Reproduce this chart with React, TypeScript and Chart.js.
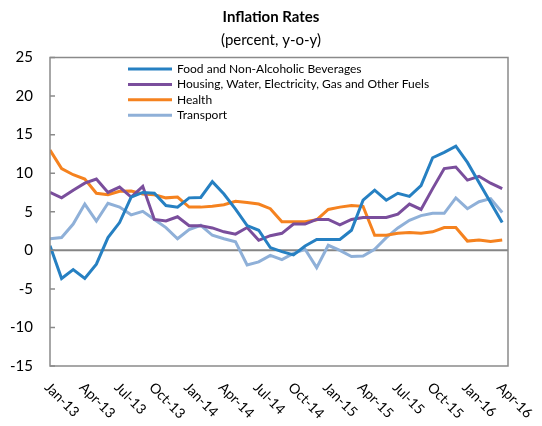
import React, { useEffect, useRef } from "react";
import { Chart, registerables } from "chart.js";
Chart.register(...registerables);

const months = [
  "Jan-13","Feb-13","Mar-13","Apr-13","May-13","Jun-13","Jul-13","Aug-13","Sep-13","Oct-13","Nov-13","Dec-13",
  "Jan-14","Feb-14","Mar-14","Apr-14","May-14","Jun-14","Jul-14","Aug-14","Sep-14","Oct-14","Nov-14","Dec-14",
  "Jan-15","Feb-15","Mar-15","Apr-15","May-15","Jun-15","Jul-15","Aug-15","Sep-15","Oct-15","Nov-15","Dec-15",
  "Jan-16","Feb-16","Mar-16","Apr-16",
];
const tickLabels = [
  "Jan-13","Apr-13","Jul-13","Oct-13","Jan-14","Apr-14","Jul-14",
  "Oct-14","Jan-15","Apr-15","Jul-15","Oct-15","Jan-16","Apr-16",
];
const yTicks = [25, 20, 15, 10, 5, 0, -5, -10, -15];

const food = [0.6, -3.65, -2.5, -3.65, -1.8, 1.65, 3.6, 6.9, 7.5, 7.4, 5.8, 5.6, 6.8, 6.85, 8.9, 7.3, 5.35, 3.2, 2.6, 0.35, -0.17, -0.6, 0.56, 1.4, 1.4, 1.4, 2.6, 6.5, 7.8, 6.5, 7.4, 7.0, 8.4, 12.0, 12.7, 13.5, 11.4, 8.8, 6.2, 3.6];
const housing = [7.5, 6.8, 7.8, 8.7, 9.25, 7.5, 8.2, 6.9, 8.3, 4.0, 3.8, 4.35, 3.2, 3.2, 2.9, 2.4, 2.1, 2.95, 1.3, 1.9, 2.2, 3.4, 3.4, 4.0, 4.0, 3.3, 4.0, 4.25, 4.25, 4.25, 4.7, 6.0, 5.3, 8.0, 10.6, 10.8, 9.1, 9.6, 8.7, 8.0];
const health = [13.0, 10.6, 9.8, 9.25, 7.4, 7.2, 7.65, 7.7, 7.3, 7.2, 6.8, 6.9, 5.6, 5.6, 5.7, 5.9, 6.35, 6.2, 6.0, 5.4, 3.7, 3.7, 3.7, 3.95, 5.3, 5.6, 5.8, 5.7, 1.95, 1.95, 2.2, 2.3, 2.2, 2.4, 2.95, 2.95, 1.2, 1.35, 1.15, 1.35];
const transport = [1.5, 1.65, 3.4, 6.0, 3.8, 6.1, 5.6, 4.6, 5.05, 4.0, 2.95, 1.5, 2.7, 3.25, 1.95, 1.5, 1.1, -1.9, -1.5, -0.65, -1.2, -0.4, 0.13, -2.25, 0.65, 0.0, -0.8, -0.75, 0.13, 1.65, 2.9, 3.9, 4.5, 4.8, 4.8, 6.8, 5.4, 6.3, 6.7, 4.9];

const seriesNames = [
  "Food and Non-Alcoholic Beverages",
  "Housing, Water, Electricity, Gas and Other Fuels",
  "Health",
  "Transport",
];
const seriesColors = ["#2680C2", "#7A4E9C", "#F5821F", "#8FB0D8"];
const seriesValues = [food, housing, health, transport];

const title = "Inflation Rates";
const subtitle = "(percent, y-o-y)";
const FONT = "Lato, 'Open Sans', sans-serif";

const decorPlugin = {
  id: "decor",
  beforeDatasetsDraw(chart: any) {
    const { ctx, chartArea } = chart;
    const y = chart.scales.y;
    ctx.save();
    ctx.strokeStyle = "#858585";
    ctx.lineWidth = 2;
    const y0 = y.getPixelForValue(0);
    ctx.beginPath();
    ctx.moveTo(chartArea.left, y0);
    ctx.lineTo(chartArea.right, y0);
    ctx.stroke();
    ctx.restore();
  },
  afterDraw(chart: any) {
    const { ctx, chartArea } = chart;
    const x = chart.scales.x;
    const y = chart.scales.y;
    ctx.save();
    // frame
    ctx.strokeStyle = "#8a8a8a";
    ctx.lineWidth = 1.5;
    ctx.strokeRect(chartArea.left, chartArea.top, chartArea.right - chartArea.left, chartArea.bottom - chartArea.top);
    // inward y ticks
    ctx.beginPath();
    yTicks.forEach((v) => {
      const py = y.getPixelForValue(v);
      ctx.moveTo(chartArea.left, py);
      ctx.lineTo(chartArea.left + 5, py);
    });
    ctx.stroke();
    // x labels rotated
    ctx.fillStyle = "#000";
    ctx.font = `14px ${FONT}`;
    ctx.textAlign = "left";
    ctx.textBaseline = "middle";
    tickLabels.forEach((lab) => {
      const idx = months.indexOf(lab);
      const px = x.getPixelForValue(idx);
      ctx.save();
      ctx.translate(px - 3, chartArea.bottom + 19);
      ctx.rotate(Math.PI / 4);
      ctx.fillText(lab, 0, 0);
      ctx.restore();
    });
    // title
    ctx.textAlign = "center";
    ctx.font = `bold 15px ${FONT}`;
    ctx.fillText(title, 271, 17);
    ctx.font = `15px ${FONT}`;
    ctx.fillText(subtitle, 271, 40);
    // legend
    ctx.font = `12px ${FONT}`;
    ctx.textAlign = "left";
    chart.data.datasets.forEach((ds: any, i: number) => {
      const ly = 69 + i * 15.4;
      ctx.strokeStyle = ds.borderColor;
      ctx.lineWidth = 3;
      ctx.beginPath();
      ctx.moveTo(128, ly);
      ctx.lineTo(172, ly);
      ctx.stroke();
      ctx.fillStyle = "#000";
      ctx.fillText(ds.label, 177, ly);
    });
    ctx.restore();
  },
};

export default function App() {
  const ref = useRef<HTMLCanvasElement | null>(null);
  useEffect(() => {
    if (!ref.current) return;
    const chart = new Chart(ref.current, {
      type: "line",
      data: {
        datasets: seriesValues.map((vals, i) => ({
          label: seriesNames[i],
          data: vals.map((v, k) => ({ x: k, y: v })),
          borderColor: seriesColors[i],
          backgroundColor: seriesColors[i],
          borderWidth: 3,
          pointRadius: 0,
          tension: 0,
          fill: false,
        })),
      },
      options: {
        responsive: false,
        animation: false,
        events: [],
        layout: { padding: { left: 0, right: 34, top: 57.5, bottom: 0 } },
        plugins: { legend: { display: false }, title: { display: false }, tooltip: { enabled: false } },
        scales: {
          x: {
            type: "linear",
            min: 0,
            max: 39.5,
            ticks: { display: false },
            grid: { display: false, drawTicks: false },
            border: { display: false },
            afterFit: (s: any) => { s.height = 60; },
          },
          y: {
            min: -15,
            max: 25,
            ticks: { stepSize: 5, padding: 17, color: "#000", font: { family: FONT, size: 15 } },
            grid: { display: false, drawTicks: false },
            border: { display: false },
            afterFit: (s: any) => { s.width = 50; },
          },
        },
      },
      plugins: [decorPlugin],
    });
    return () => chart.destroy();
  }, []);
  return (
    <div style={{ position: "fixed", left: 0, top: 0, width: 542, height: 426, background: "#fff" }}>
      <canvas ref={ref} width={542} height={426} />
    </div>
  );
}
